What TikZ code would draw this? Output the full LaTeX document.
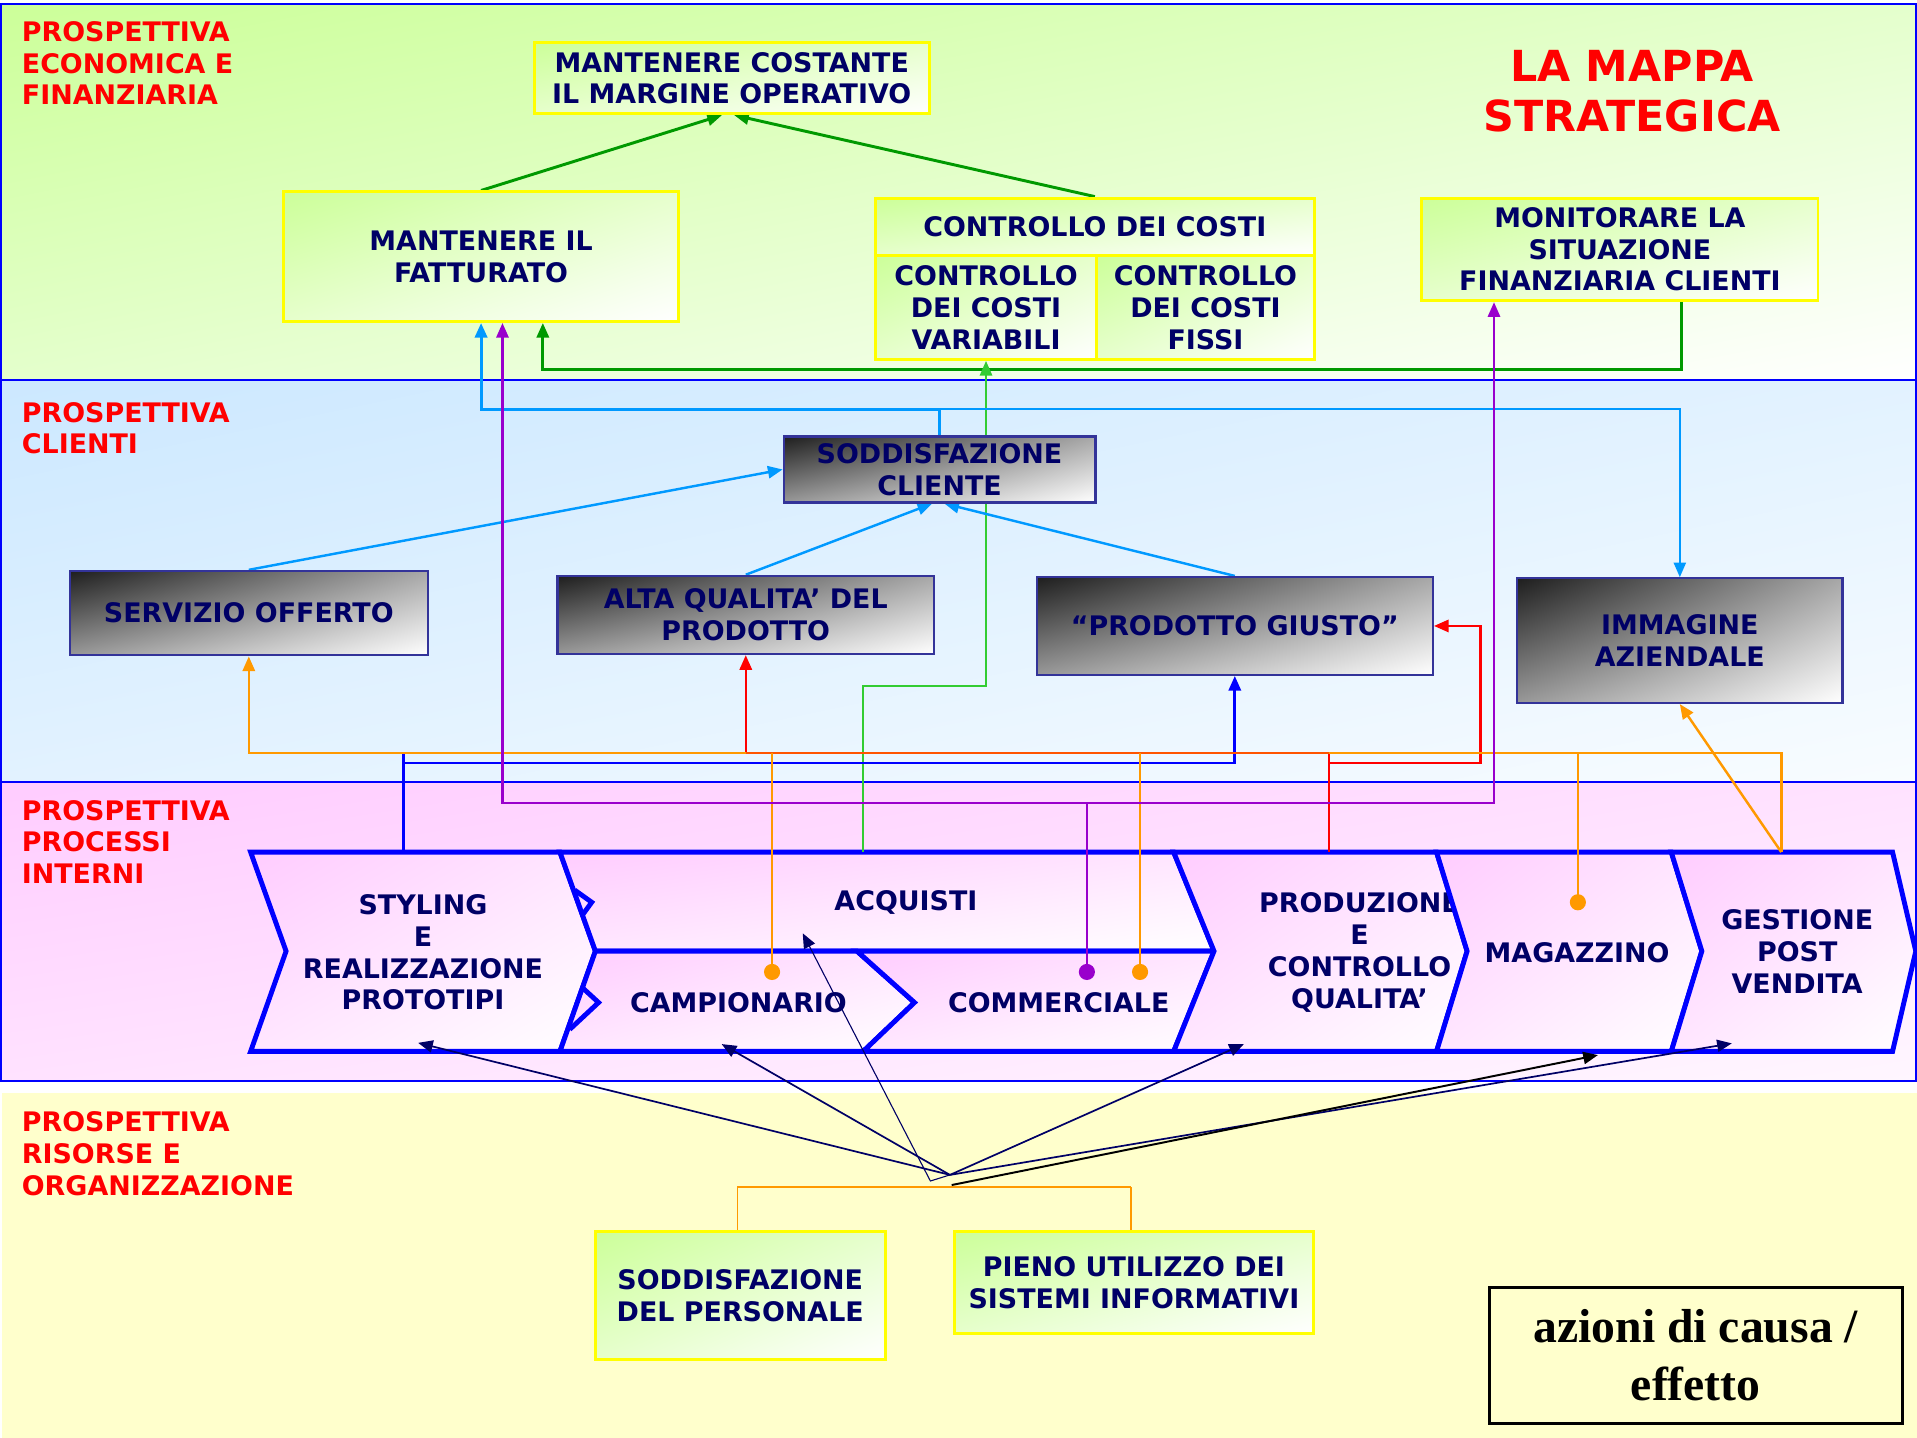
\documentclass[tikz,border=0pt]{standalone}
\usepackage{fontspec}
\setmainfont{DejaVu Sans}
\newfontfamily\tnrfont{Liberation Serif}
\usetikzlibrary{arrows.meta,calc,shadings}
\definecolor{cNavy}{HTML}{000066}
\definecolor{cRed}{HTML}{FF0000}
\definecolor{cBlue}{HTML}{0000FF}
\definecolor{cG}{HTML}{009900}
\definecolor{cLG}{HTML}{33CC33}
\definecolor{cLB}{HTML}{0099FF}
\definecolor{cPu}{HTML}{9900CC}
\definecolor{cOr}{HTML}{FF9900}
\definecolor{cYel}{HTML}{FFFF00}
\definecolor{cDB}{HTML}{333399}
\definecolor{cBa}{HTML}{CCFF99}
\definecolor{cBb}{HTML}{E4FFCC}
\definecolor{cBc}{HTML}{CCE8FF}
\definecolor{cBd}{HTML}{E2F2FF}
\definecolor{cBe}{HTML}{F8FCFF}
\definecolor{cBf}{HTML}{FFCCFF}
\definecolor{cBg}{HTML}{FFE2FF}
\definecolor{cBh}{HTML}{FFF6FF}
\definecolor{cBy}{HTML}{FFFFCC}
\definecolor{cGa}{HTML}{CCFF99}
\definecolor{cGb}{HTML}{E6FFCC}
\definecolor{cPa}{HTML}{FFCCFF}
\definecolor{cPb}{HTML}{FFE6FF}
\definecolor{cKa}{HTML}{1E1E1E}
\definecolor{cKb}{HTML}{A8A8A8}
\definecolor{cKc}{HTML}{989898}
\newcommand\nfnt{\fontsize{11pt}{13pt}\selectfont\bfseries}
\pgfdeclarelayer{bg}
\pgfdeclarelayer{ln}
\pgfsetlayers{bg,ln,main}
\begin{document}
\begin{tikzpicture}[x=0.5pt,y=-0.5pt,
  arr/.style={-{Triangle[length=6pt,width=5pt]}},
  sz/.style args={#1/#2}{minimum width=#1pt, minimum height=#2pt},
  gbox/.style={draw=cYel, line width=1.2pt, shade, shading=bilinear interpolation, upper left=cGa, upper right=cGb, lower left=cGb, lower right=white, inner sep=0pt, align=center, text=cNavy, font=\nfnt},
  dbox/.style={draw=cDB, line width=0.9pt, shade, shading=bilinear interpolation, upper left=cKa, upper right=cKb, lower left=cKc, lower right=white, inner sep=0pt, align=center, text=cNavy, font=\nfnt},
  chev/.style={draw=cBlue, line width=2pt, line join=miter, shading=bilinear interpolation, upper left=cPa, upper right=cPb, lower left=cPb, lower right=white},
  ctext/.style={inner sep=0pt, align=center, text=cNavy, font=\nfnt},
  lab/.style={anchor=north west, inner sep=0pt, align=left, text=cRed, font=\nfnt},
  band/.style={draw=cBlue, line width=0.8pt},
  navyln/.style={cNavy, line width=0.7pt, arr}
]
\useasboundingbox (0,0) rectangle (1568,1176);
\begin{pgfonlayer}{bg}
\fill[white] (0,0) rectangle (1568,1176);
% bands
\shade[shading=bilinear interpolation, upper left=cBa, upper right=cBb, lower left=cBb, lower right=white] (1,3) rectangle (1567,311);
\draw[band] (1,3) rectangle (1567,311);
\shade[shading=bilinear interpolation, upper left=cBc, upper right=cBd, lower left=cBd, lower right=cBe] (1,311) rectangle (1567,640);
\draw[band] (1,311) rectangle (1567,640);
\shade[shading=bilinear interpolation, upper left=cBf, upper right=cBg, lower left=cBg, lower right=cBh] (1,640) rectangle (1567,884);
\draw[band] (1,640) rectangle (1567,884);
\fill[cBy] (2,894) rectangle (1568,1176);
% labels
\node[lab] (lab1) at (17.5,17) {PROSPETTIVA\\ECONOMICA E\\FINANZIARIA};
\node[lab] (lab2) at (17.5,328.5) {PROSPETTIVA\\CLIENTI};
\node[lab] (lab3) at (17.5,654) {PROSPETTIVA\\PROCESSI\\INTERNI};
\node[lab] (lab4) at (17.5,909) {PROSPETTIVA\\RISORSE E\\ORGANIZZAZIONE};
\node[anchor=north, inner sep=0pt, align=center, text=cRed, font={\fontsize{17.5pt}{20.7pt}\selectfont\bfseries}] (title) at (1335,40.4) {LA MAPPA\\STRATEGICA};
% chevrons
\shadedraw[chev] (205,697) -- (458,697) -- (487,778) -- (458,860) -- (205,860) -- (234,778) -- cycle;
\node[ctext] (tSty) at (346,779) {STYLING\\E\\REALIZZAZIONE\\PROTOTIPI};
\shadedraw[chev] (458,697) -- (960,697) -- (993,778) -- (487,778) -- cycle;
\node[ctext] (tAcq) at (741,738) {ACQUISTI};
\shadedraw[chev] (487,778) -- (701,778) -- (748,820) -- (706,860) -- (458,860) -- cycle;
\node[ctext] (tCamp) at (604,820) {CAMPIONARIO};
\shadedraw[chev] (701,778) -- (993,778) -- (960,860) -- (706,860) -- (748,820) -- cycle;
\node[ctext] (tComm) at (866,820) {COMMERCIALE};
\draw[cBlue, line width=2pt] (470,728) -- (484,738) -- (476,749);
\draw[cBlue, line width=2pt] (476.5,808) -- (489.6,820) -- (466,842);
\shadedraw[chev] (960,697) -- (1175,697) -- (1200,778) -- (1175,860) -- (960,860) -- (993,778) -- cycle;
\node[ctext] (tProd) at (1112,779) {PRODUZIONE\\E\\CONTROLLO\\QUALITA’};
\shadedraw[chev] (1175,697) -- (1367,697) -- (1392,778) -- (1367,860) -- (1175,860) -- (1200,778) -- cycle;
\node[ctext] (tMag) at (1290,779) {MAGAZZINO};
\shadedraw[chev] (1367,697) -- (1548,697) -- (1567,778) -- (1548,860) -- (1367,860) -- (1392,778) -- cycle;
\node[ctext] (tGpv) at (1470,778.5) {GESTIONE\\POST\\VENDITA};
\end{pgfonlayer}

% boxes
\node[gbox, sz=161.5/29] (mco) at (598.5,64) {MANTENERE COSTANTE\\IL MARGINE OPERATIVO};
\node[gbox, sz=161.5/53] (mf) at (393.5,210) {MANTENERE IL\\FATTURATO};
\node[gbox, sz=179.5/23.5] (cdc) at (895.5,185.5) {CONTROLLO DEI COSTI};
\node[gbox, sz=90.5/42.5] (cdcv) at (806.5,251.5) {CONTROLLO\\DEI COSTI\\VARIABILI};
\node[gbox, sz=89/42.5] (cdcf) at (986,251.5) {CONTROLLO\\DEI COSTI\\FISSI};
\node[gbox, sz=162/42] (mon) at (1325,204) {MONITORARE LA\\SITUAZIONE\\FINANZIARIA CLIENTI};
\node[dbox, sz=127.5/27] (sodd) at (768.5,384) {SODDISFAZIONE\\CLIENTE};
\node[dbox, sz=146.5/34.5] (serv) at (203.5,501.5) {SERVIZIO OFFERTO};
\node[dbox, sz=154/32] (alta) at (610,503) {ALTA QUALITA’ DEL\\PRODOTTO};
\node[dbox, sz=162/40] (pg) at (1010,512) {“PRODOTTO GIUSTO”};
\node[dbox, sz=133/51] (imm) at (1374,524) {IMMAGINE\\AZIENDALE};
\node[gbox, sz=118.5/52.5] (sdp) at (605.5,1059.5) {SODDISFAZIONE\\DEL PERSONALE};
\node[gbox, sz=146.5/42] (pus) at (927.5,1049) {PIENO UTILIZZO DEI\\SISTEMI INFORMATIVI};
\node[draw=black, line width=1.3pt, fill=cBy, sz=169/55.5, inner sep=0pt, align=center, font={\fontsize{19.5pt}{23.5pt}\tnrfont\bfseries}] (leg) at (1387,1108.5) {azioni di causa /\\effetto};

% coordinates
\coordinate (styTop) at (330,697);
\coordinate (acqTop) at (706,697);
\coordinate (prodTop) at (1087,697);
\coordinate (gpvTop) at (1457,697);
\coordinate (dotA) at (631.5,795);
\coordinate (dotP) at (889,795);
\coordinate (dotB) at (932.5,795);
\coordinate (dotC) at (1290.6,738);
\coordinate (hub) at (777,961);
\coordinate (hubK) at (778.4,969.3);
\coordinate (hubA) at (761,966);
\coordinate (styB) at (342,853);
\coordinate (campB) at (590.3,854);
\coordinate (acqB) at (656.6,763.4);
\coordinate (prodB) at (1017.4,854);
\coordinate (magB) at (1307,863);
\coordinate (gpvB) at (1416.5,853.4);
\coordinate (gA) at (1375,302);
\coordinate (gB) at (444,302);
\coordinate (lgA) at (706,561);
\coordinate (pA) at (889,657);
\coordinate (pL) at (411,657);
\coordinate (pR) at (1222,657);
\coordinate (rA) at (1087,616);
\coordinate (rB) at (1087,624);
\coordinate (rC) at (1211,624);
\coordinate (bA) at (330,616);
\coordinate (bB) at (330,624);
\coordinate (oA) at (1457,616);
\coordinate (brL) at (603,971);
\coordinate (brR) at (925,971);

\begin{pgfonlayer}{ln}
% economic band
\draw[cG, line width=1.2pt, arr] (mf.north) -- ($(mco.south)+(-8,0)$);
\draw[cG, line width=1.2pt, arr] (cdc.north) -- ($(mco.south)+(2,0)$);
\draw[cG, line width=1.2pt, arr] (mon.south -| gA) -- (gA) -- (gB) -- (mf.south -| gB);
\draw[cLG, line width=0.9pt, arr] (acqTop) -- (lgA) -| (cdcv.south);
% clients band
\draw[cLB, line width=1.3pt, arr] (sodd.north) -- ++(0,-21) -| (mf.south);
\draw[cLB, line width=0.8pt, arr] ($(sodd.north)+(0,-21.5)$) -| (imm.north);
\draw[cLB, line width=1pt, arr] (serv.north) -- (sodd.west);
\draw[cLB, line width=1pt, arr] (alta.north) -- ($(sodd.south)+(-6,0)$);
\draw[cLB, line width=1pt, arr] (pg.north) -- ($(sodd.south)+(4,0)$);
% blue to prodotto giusto
\draw[cBlue, line width=1pt] (styTop) -- (bA);
\draw[cBlue!60, line width=0.5pt] (bA) -- (rA);
\draw[cBlue, line width=1.1pt, arr] (bB) -| (pg.south);
% red
\draw[cRed, line width=1pt, arr] (prodTop) -- (rA) -| (alta.south);
\draw[cRed, line width=1pt, arr] (rB) -- (rC) |- (pg.east);
% orange network
\draw[cOr, line width=1pt, arr] (gpvTop) -- (oA) -- (serv.south |- oA) -- (serv.south);
\draw[cRed, opacity=0.45, line width=1pt] (rA) -- (alta.south |- rA);
\draw[cOr, line width=1pt, arr] (gpvTop) -- (imm.south);
\draw[cOr, line width=1pt] (dotA) -- (dotA |- oA);
\draw[cOr, line width=1pt] (dotB) -- (dotB |- oA);
\draw[cOr, line width=1pt] (dotC) -- (dotC |- oA);
\fill[cOr] (dotA) circle[radius=3.3pt];
\fill[cOr] (dotB) circle[radius=3.3pt];
\fill[cOr] (dotC) circle[radius=3.3pt];
% purple
\draw[cPu, line width=1pt, arr] (dotP) -- (pA) -- (pL) -- (mf.south -| pL);
\draw[cPu, line width=1pt, arr] (pA) -- (pR) -- (mon.south -| pR);
\fill[cPu] (dotP) circle[radius=3.3pt];
% resources band
\draw[cOr, line width=1.1pt] (brL) -- (brR);
\draw[cOr, line width=0.5pt] (sdp.north -| brL) -- (brL);
\draw[cOr, line width=0.5pt] (pus.north -| brR) -- (brR);
\draw[navyln] (hub) -- (styB);
\draw[navyln] (hub) -- (campB);
\draw[cNavy, line width=0.45pt, arr] (hub) -- (hubA) -- (acqB);
\draw[navyln] (hub) -- (prodB);
\draw[navyln] (hub) -- (gpvB);
\draw[black, line width=0.8pt, arr] (hubK) -- (magB);
\end{pgfonlayer}
\end{tikzpicture}
\end{document}
